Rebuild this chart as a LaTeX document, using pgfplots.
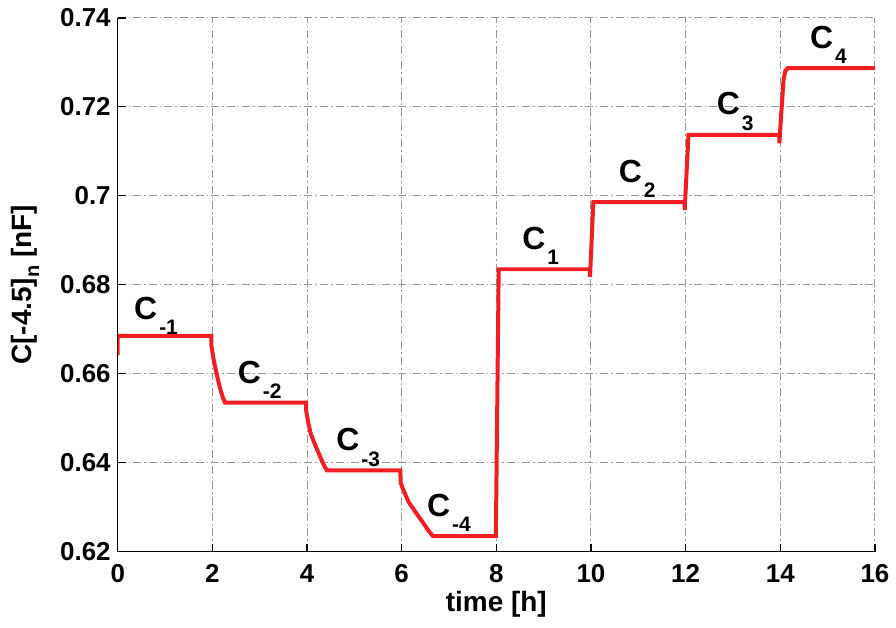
\documentclass[border=0pt]{standalone}
\usepackage{fontspec}
\setmainfont{Liberation Sans}
\usepackage{pgfplots}
\pgfplotsset{compat=1.18}
\usetikzlibrary{calc}
\definecolor{mred}{RGB}{240,30,35}
\definecolor{gridgray}{RGB}{150,150,150}
\newcommand{\clab}[1]{{\fontsize{16}{16}\selectfont\bfseries C}\kern1pt\raisebox{-7.7pt}{\fontsize{10.5}{10.5}\selectfont\bfseries #1}}
\begin{document}
\begin{tikzpicture}
\begin{axis}[
  scale only axis, width=379.5pt, height=267.5pt,
  xmin=0, xmax=16, ymin=0.62, ymax=0.74,
  xtick={0,2,4,6,8,10,12,14,16},
  ytick={0.62,0.64,0.66,0.68,0.70,0.72,0.74},
  yticklabels={0.62,0.64,0.66,0.68,0.7,0.72,0.74},
  axis x line*=bottom, axis y line*=left,
  axis line style={line width=0.75pt, black},
  tick align=inside, major tick length=4pt,
  tick style={black, line width=0.6pt},
  grid=major,
  major grid style={gridgray, line width=0.5pt, dash pattern=on 4pt off 1.5pt on 0.8pt off 1.5pt},
  ticklabel style={font=\fontsize{13}{13}\selectfont\bfseries},
  /pgf/number format/assume math mode=true,
  xticklabel style={yshift=-3pt},
  xlabel={time [h]},
  ylabel={C[-4.5]\raisebox{-4pt}{\fontsize{10}{10}\selectfont n} [nF]},
  every axis x label/.style={at={(axis description cs:0.5,0)}, anchor=center, yshift=-26.5pt, font=\fontsize{14}{14}\selectfont\bfseries},
  every axis y label/.style={at={(axis description cs:-0.1225,0.5)}, rotate=90, anchor=center, font=\fontsize{14}{14}\selectfont\bfseries},
]
\addplot[mred, line width=2pt] coordinates {
(0,0.6642) (0,0.6685) (1.98,0.6685) (1.98,0.6663) (2.03,0.6630) (2.09,0.6600)
(2.16,0.6568) (2.22,0.6547) (2.27,0.6535) (3.98,0.6535) (3.98,0.6518) (4.03,0.6488)
(4.08,0.6465) (4.16,0.6443) (4.26,0.6418) (4.35,0.6396) (4.42,0.6383) (5.97,0.6383)
(5.98,0.6355) (6.03,0.6340) (6.15,0.6311) (6.30,0.6288) (6.44,0.6267) (6.56,0.6248)
(6.66,0.6235) (7.99,0.6235) (8.05,0.6835) (9.98,0.6835) (9.98,0.6818) (10.05,0.6986)
(11.98,0.6986) (11.98,0.6968) (12.06,0.7137) (13.98,0.7137) (13.98,0.7118) (14.03,0.7200)
(14.07,0.7262) (14.11,0.7282) (14.16,0.7287) (16,0.7287)
};
\node[anchor=base west, inner sep=0] at (axis cs:0.34,0.6723) {\clab{-1}};
\node[anchor=base west, inner sep=0] at (axis cs:2.53,0.6579) {\clab{-2}};
\node[anchor=base west, inner sep=0] at (axis cs:4.61,0.6427) {\clab{-3}};
\node[anchor=base west, inner sep=0] at (axis cs:6.53,0.6279) {\clab{-4}};
\node[anchor=base west, inner sep=0] at (axis cs:8.54,0.6880) {\clab{1}};
\node[anchor=base west, inner sep=0] at (axis cs:10.58,0.7031) {\clab{2}};
\node[anchor=base west, inner sep=0] at (axis cs:12.65,0.7182) {\clab{3}};
\node[anchor=base west, inner sep=0] at (axis cs:14.62,0.7332) {\clab{4}};
\end{axis}
\path ($(current axis.south west)+(-59pt,-38pt)$) rectangle ($(current axis.north east)+(9.5pt,9pt)$);
\end{tikzpicture}
\end{document}
